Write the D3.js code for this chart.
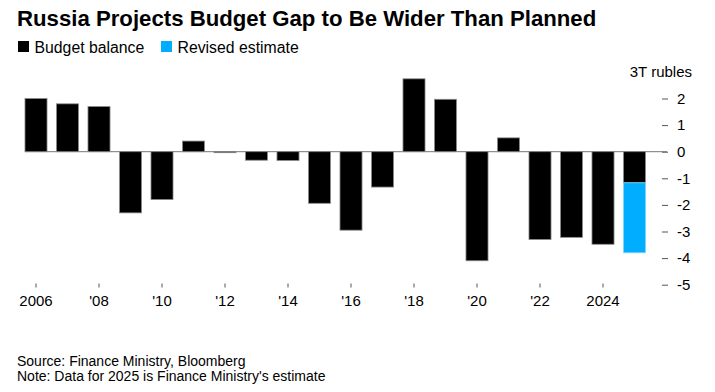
<!DOCTYPE html>
<html>
<head>
<meta charset="utf-8">
<script src="https://cdn.jsdelivr.net/npm/d3@7"></script>
<style>
  body { margin: 0; background: #fff; }
  text { font-family: "Liberation Sans", Arial, sans-serif; }
</style>
</head>
<body>
<div id="main"></div>
<script>
const ctx = {
    W: 715,
    H: 392,
    BLACK: "#000000",
    BLUE: "#00adff",
    GREY: "#8c8c8c"
};

// values in trillion rubles
const years = d3.range(2006, 2026);
const balance = [2.0, 1.8, 1.7, -2.3, -1.8, 0.4, -0.03, -0.32, -0.33, -1.94,
                 -2.95, -1.33, 2.74, 1.97, -4.1, 0.52, -3.3, -3.22, -3.48, -1.17];
// revised estimate adds on top of the balance for 2025 only
const revised = [null, null, null, null, null, null, null, null, null, null,
                 null, null, null, null, null, null, null, null, null, -3.8];
const yTicks = [-5, -4, -3, -2, -1, 0, 1, 2];
const xTickYears = [2006, 2008, 2010, 2012, 2014, 2016, 2018, 2020, 2022, 2024];

function xLabel(y) {
    return (y == 2006 || y == 2024) ? String(y) : "'" + String(y).slice(2);
}

const svg = d3.select("#main").append("svg")
    .attr("width", ctx.W)
    .attr("height", ctx.H);

// title + legend
svg.append("text")
    .attr("x", 17).attr("y", 26)
    .attr("font-size", 22.2).attr("font-weight", "bold")
    .attr("fill", "#000")
    .text("Russia Projects Budget Gap to Be Wider Than Planned");

const legend = [["Budget balance", ctx.BLACK, 18], ["Revised estimate", ctx.BLUE, 161]];
legend.forEach(([lab, col, x]) => {
    svg.append("rect").attr("x", x).attr("y", 41).attr("width", 11).attr("height", 11).attr("fill", col);
    svg.append("text").attr("x", x + 16.5).attr("y", 52.5)
        .attr("font-size", 15.8).attr("fill", "#000").text(lab);
});

const xScale = d3.scaleBand()
    .domain(years)
    .range([20.25, 650.25])
    .paddingInner(0.3)
    .paddingOuter(0.15);

const yScale = d3.scaleLinear()
    .domain([-5, 3])
    .range([284.7, 71.9]);

// y axis on the right
const yAxis = d3.axisRight(yScale)
    .tickValues(yTicks)
    .tickSize(6)
    .tickPadding(9)
    .tickFormat(d => d);

const yG = svg.append("g")
    .attr("transform", "translate(662,0)")
    .call(yAxis);
yG.select(".domain").remove();
yG.selectAll(".tick line").attr("stroke", "#555");
yG.selectAll(".tick text")
    .attr("font-size", 15).attr("fill", "#000")
    .attr("font-family", "Liberation Sans, Arial, sans-serif");

svg.append("text")
    .attr("x", 692).attr("y", yScale(3) + 5.5)
    .attr("text-anchor", "end")
    .attr("font-size", 15).attr("fill", "#000")
    .text("3T rubles");

// zero line
svg.append("line")
    .attr("x1", xScale(2006)).attr("x2", 667)
    .attr("y1", yScale(0)).attr("y2", yScale(0))
    .attr("stroke", "#777").attr("stroke-width", 1);

// bars
const barsG = svg.append("g");
years.forEach((yr, i) => {
    const v = balance[i];
    barsG.append("rect")
        .attr("x", xScale(yr))
        .attr("width", xScale.bandwidth())
        .attr("y", yScale(Math.max(0, v)))
        .attr("height", Math.max(1, Math.abs(yScale(v) - yScale(0))))
        .attr("fill", ctx.BLACK)
        .attr("stroke", ctx.GREY).attr("stroke-width", 0.8);
    if (revised[i] != null) {
        barsG.append("rect")
            .attr("x", xScale(yr))
            .attr("width", xScale.bandwidth())
            .attr("y", yScale(v))
            .attr("height", yScale(revised[i]) - yScale(v))
            .attr("fill", ctx.BLUE)
            .attr("stroke", "#7fd6ff").attr("stroke-width", 0.8);
    }
});

// x axis
const xAxis = d3.axisBottom(xScale)
    .tickValues(xTickYears)
    .tickSize(4)
    .tickPadding(8)
    .tickFormat(xLabel);

const xG = svg.append("g")
    .attr("transform", "translate(0,283.5)")
    .call(xAxis);
xG.select(".domain").remove();
xG.selectAll(".tick line").attr("stroke", "#555");
xG.selectAll(".tick text")
    .attr("font-size", 15).attr("fill", "#000")
    .attr("font-family", "Liberation Sans, Arial, sans-serif");

// footer
svg.append("text").attr("x", 17).attr("y", 366)
    .attr("font-size", 14).attr("fill", "#000")
    .text("Source: Finance Ministry, Bloomberg");
svg.append("text").attr("x", 17).attr("y", 380.5)
    .attr("font-size", 14).attr("fill", "#000")
    .text("Note: Data for 2025 is Finance Ministry's estimate");
</script>
</body>
</html>
